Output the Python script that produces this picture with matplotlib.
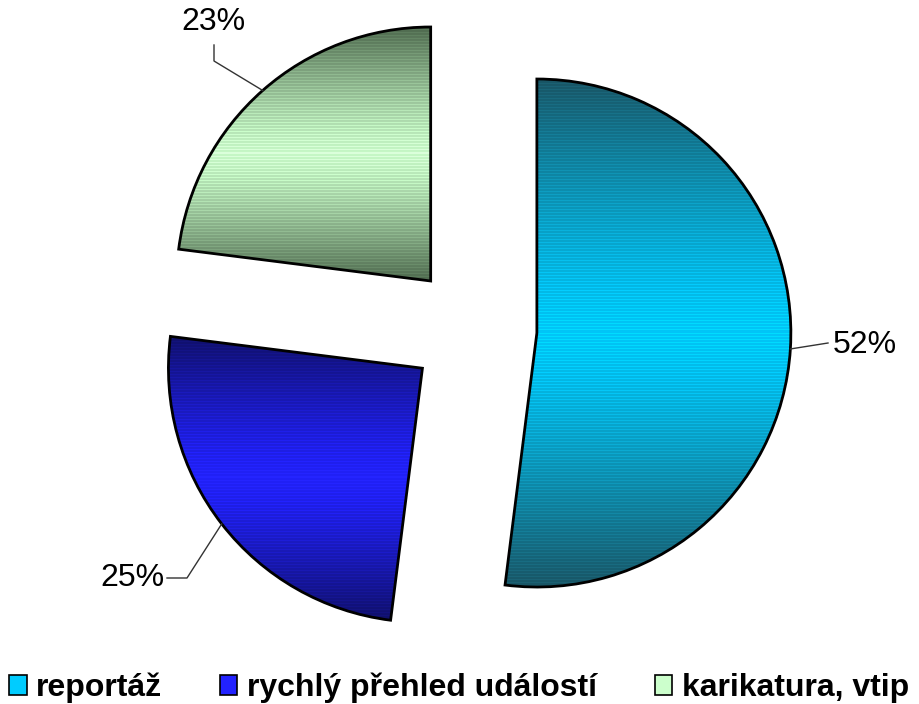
import numpy as np
import matplotlib
matplotlib.use("Agg")
import matplotlib.pyplot as plt
from matplotlib.patches import Patch

# data
categories = ["reportáž", "rychlý přehled událostí", "karikatura, vtip"]
shares = [52, 25, 23]
labels = ["52%", "25%", "23%"]

# gradient colours per slice: (centre colour, edge colour)
centre_colors = ["#00CCFF", "#2222FF", "#CCFFCC"]
edge_colors = ["#1A5666", "#10106A", "#4E6A4E"]

plt.rcParams['font.family'] = ['Liberation Sans', 'DejaVu Sans']

W, H = 919, 704
fig = plt.figure(figsize=(W / 100, H / 100), dpi=100)
ax = fig.add_axes([0, 0, 1, 1])

R = 254
C = (473, H - 329)
# explode is in data units here (pixels)
wedges, _ = ax.pie(shares, radius=R, center=C, startangle=90, counterclock=False,
                   explode=[64] * 3, wedgeprops=dict(linewidth=2, edgecolor="black"))
ax.axis("off")


def hex2rgb(h):
    return np.array([int(h[i:i + 2], 16) for i in (1, 3, 5)]) / 255.0


anchors = []
for w, c1, c2 in zip(wedges, centre_colors, edge_colors):
    cx, cy = w.center
    r = w.r
    th = np.linspace(w.theta1, w.theta2, 200)
    xs = np.concatenate([[cx], cx + r * np.cos(np.radians(th))])
    ys = np.concatenate([[cy], cy + r * np.sin(np.radians(th))])
    x0, x1, y0, y1 = xs.min() - 2, xs.max() + 2, ys.min() - 2, ys.max() + 2
    n = int(y1 - y0)
    t = np.abs(np.linspace(-1, 1, n))[:, None] ** 1.2
    col = hex2rgb(c1) * (1 - t) + hex2rgb(c2) * t
    # banding stripes like the original rendering
    stripe = np.where(np.arange(n) % 3 == 0, 1.08, 0.97)[:, None]
    col = np.clip(col * stripe, 0, 1)
    img = np.repeat(col[:, None, :], 4, axis=1).reshape(n, 4, 3)
    im = ax.imshow(img, extent=[x0, x1, y0, y1], origin="lower", aspect="auto",
                   interpolation="nearest", zorder=1)
    im.set_clip_path(w)
    w.set_facecolor("none")
    w.set_zorder(2)
    mid = np.radians((w.theta1 + w.theta2) / 2)
    anchors.append((cx + r * np.cos(mid), cy + r * np.sin(mid)))

ax.set_xlim(0, W)
ax.set_ylim(0, H)

# label positions and leader elbows
label_pos = [(865, H - 345), (132, H - 578), (213, H - 22)]
leader_pts = [[(828, H - 343)],
              [(187, H - 578), (167, H - 578)],
              [(214, H - 61), (214, H - 45)]]

for lab, pos, pts, a in zip(labels, label_pos, leader_pts, anchors):
    px = [a[0]] + [p[0] for p in pts]
    py = [a[1]] + [p[1] for p in pts]
    ax.plot(px, py, color="#333333", lw=1, zorder=3)
    ax.text(pos[0], pos[1], lab, fontsize=23, ha="center", va="center")

handles = [Patch(facecolor=c, edgecolor="black", linewidth=1.2) for c in centre_colors]
fig.legend(handles, categories, loc="center", bbox_to_anchor=(0.4995, 16 / H),
           ncol=3, frameon=False, handlelength=0.55, handleheight=0.55,
           handletextpad=0.3, columnspacing=1.8,
           prop=dict(family=['Liberation Sans', 'DejaVu Sans'], weight="bold", size=23))

fig.savefig("out.png", dpi=100)
